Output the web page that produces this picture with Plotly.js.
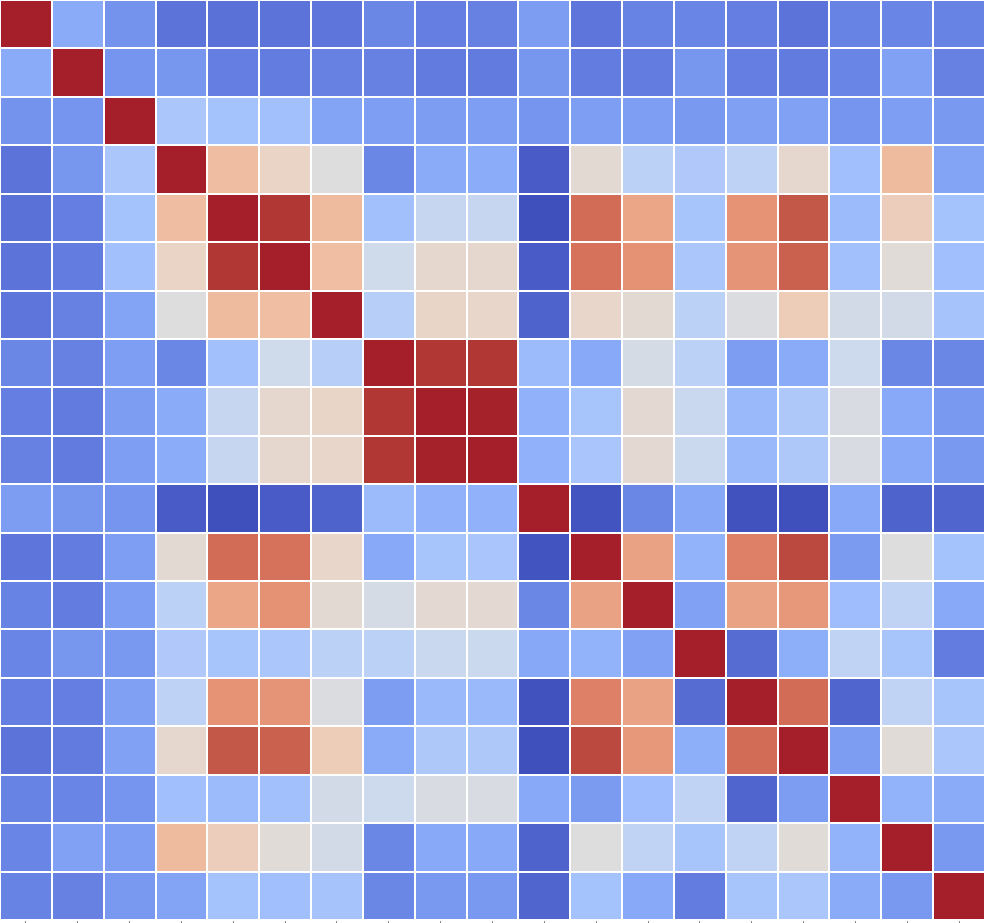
<!DOCTYPE html>
<html>
<head>
<meta charset="utf-8">
<script src="https://cdn.plot.ly/plotly-3.0.1.min.js"></script>
<style>html,body{margin:0;padding:0;background:#fff;}#chart{width:985px;height:923px;}</style>
</head>
<body>
<div id="chart"></div>
<script>
// Variable indices (tick labels are cropped out of the reference)
const labels = ["0","1","2","3","4","5","6","7","8","9","10","11","12","13","14","15","16","17","18"];

// Correlation matrix rows
const row00 = [1.00,-0.52,-0.65,-0.80,-0.81,-0.80,-0.79,-0.71,-0.75,-0.74,-0.60,-0.79,-0.73,-0.72,-0.75,-0.80,-0.73,-0.72,-0.73];
const row01 = [-0.52,1.00,-0.64,-0.63,-0.75,-0.76,-0.74,-0.74,-0.77,-0.77,-0.63,-0.76,-0.76,-0.63,-0.75,-0.77,-0.72,-0.57,-0.74];
const row02 = [-0.65,-0.64,1.00,-0.33,-0.37,-0.38,-0.56,-0.59,-0.60,-0.59,-0.64,-0.59,-0.59,-0.62,-0.58,-0.57,-0.64,-0.59,-0.62];
const row03 = [-0.80,-0.63,-0.33,1.00,0.26,0.12,0.00,-0.71,-0.52,-0.51,-0.92,0.05,-0.23,-0.30,-0.21,0.08,-0.39,0.27,-0.56];
const row04 = [-0.81,-0.75,-0.37,0.26,1.00,0.91,0.27,-0.38,-0.16,-0.16,-0.98,0.72,0.40,-0.35,0.52,0.82,-0.42,0.16,-0.37];
const row05 = [-0.80,-0.76,-0.38,0.12,0.91,1.00,0.25,-0.10,0.08,0.08,-0.92,0.69,0.53,-0.33,0.51,0.78,-0.38,0.03,-0.39];
const row06 = [-0.79,-0.74,-0.56,0.00,0.27,0.25,1.00,-0.26,0.11,0.10,-0.88,0.10,0.05,-0.23,-0.02,0.17,-0.08,-0.08,-0.36];
const row07 = [-0.71,-0.74,-0.59,-0.71,-0.38,-0.10,-0.26,1.00,0.91,0.91,-0.42,-0.53,-0.06,-0.23,-0.60,-0.52,-0.12,-0.71,-0.71];
const row08 = [-0.75,-0.77,-0.60,-0.52,-0.16,0.08,0.11,0.91,1.00,0.99,-0.48,-0.35,0.06,-0.14,-0.43,-0.31,-0.04,-0.53,-0.62];
const row09 = [-0.74,-0.77,-0.59,-0.51,-0.16,0.08,0.10,0.91,0.99,1.00,-0.48,-0.34,0.06,-0.13,-0.43,-0.31,-0.04,-0.53,-0.62];
const row10 = [-0.60,-0.63,-0.64,-0.92,-0.98,-0.92,-0.88,-0.42,-0.48,-0.48,1.00,-0.96,-0.71,-0.54,-0.97,-0.98,-0.53,-0.88,-0.87];
const row11 = [-0.79,-0.76,-0.59,0.05,0.72,0.69,0.10,-0.53,-0.35,-0.34,-0.96,1.00,0.42,-0.47,0.62,0.86,-0.61,0.00,-0.37];
const row12 = [-0.73,-0.76,-0.59,-0.23,0.40,0.53,0.05,-0.06,0.06,0.06,-0.71,0.42,1.00,-0.57,0.42,0.49,-0.40,-0.20,-0.53];
const row13 = [-0.72,-0.63,-0.62,-0.30,-0.35,-0.33,-0.23,-0.23,-0.14,-0.13,-0.54,-0.47,-0.57,1.00,-0.84,-0.50,-0.20,-0.35,-0.76];
const row14 = [-0.75,-0.75,-0.58,-0.21,0.52,0.51,-0.02,-0.60,-0.43,-0.43,-0.97,0.62,0.42,-0.84,1.00,0.72,-0.87,-0.20,-0.35];
const row15 = [-0.80,-0.77,-0.57,0.08,0.82,0.78,0.17,-0.52,-0.31,-0.31,-0.98,0.86,0.49,-0.50,0.72,1.00,-0.60,0.03,-0.33];
const row16 = [-0.73,-0.72,-0.64,-0.39,-0.42,-0.38,-0.08,-0.12,-0.04,-0.04,-0.53,-0.61,-0.40,-0.20,-0.87,-0.60,1.00,-0.47,-0.52];
const row17 = [-0.72,-0.57,-0.59,0.27,0.16,0.03,-0.08,-0.71,-0.53,-0.53,-0.88,0.00,-0.20,-0.35,-0.20,0.03,-0.47,1.00,-0.62];
const row18 = [-0.73,-0.74,-0.62,-0.56,-0.37,-0.39,-0.36,-0.71,-0.62,-0.62,-0.87,-0.37,-0.53,-0.76,-0.35,-0.33,-0.52,-0.62,1.00];

const z = [row00,row01,row02,row03,row04,row05,row06,row07,row08,row09,row10,row11,row12,row13,row14,row15,row16,row17,row18];
const idx = labels.map((_, i) => i);

// coolwarm-like diverging scale
const colorscale = [
  [0.0, 'rgb(60,76,186)'],
  [0.0625, 'rgb(80,100,206)'],
  [0.125, 'rgb(100,127,225)'],
  [0.1875, 'rgb(120,152,240)'],
  [0.25, 'rgb(141,175,250)'],
  [0.3125, 'rgb(163,193,252)'],
  [0.375, 'rgb(184,207,248)'],
  [0.4375, 'rgb(204,217,238)'],
  [0.5, 'rgb(221,221,221)'],
  [0.56, 'rgb(234,212,198)'],
  [0.62, 'rgb(240,192,165)'],
  [0.69, 'rgb(236,168,138)'],
  [0.75, 'rgb(230,150,120)'],
  [0.81, 'rgb(222,128,104)'],
  [0.86, 'rgb(210,108,86)'],
  [0.91, 'rgb(196,88,72)'],
  [0.95, 'rgb(178,58,53)'],
  [1.0, 'rgb(165,31,42)']
];

const trace = {
  type: 'heatmap',
  z: z,
  x: idx,
  y: idx,
  zmin: -1,
  zmax: 1,
  colorscale: colorscale,
  showscale: false,
  xgap: 2,
  ygap: 2,
  hoverongaps: false
};

const layout = {
  width: 985,
  height: 923,
  margin: {l: 0, r: 0, t: 0, b: 3, pad: 0},
  paper_bgcolor: '#ffffff',
  plot_bgcolor: '#ffffff',
  xaxis: {
    tickmode: 'array', tickvals: idx, ticktext: labels,
    showticklabels: false, ticks: 'outside', ticklen: 3, tickwidth: 1, tickcolor: '#888',
    showgrid: false, zeroline: false, showline: false, range: [-0.5, 18.5]
  },
  yaxis: {
    tickmode: 'array', tickvals: idx, ticktext: labels,
    showticklabels: false, ticks: 'outside', ticklen: 3, tickwidth: 1, tickcolor: '#888',
    showgrid: false, zeroline: false, showline: false, range: [18.5, -0.5]
  }
};

Plotly.newPlot('chart', [trace], layout, {displayModeBar: false, staticPlot: true});
</script>
</body>
</html>
